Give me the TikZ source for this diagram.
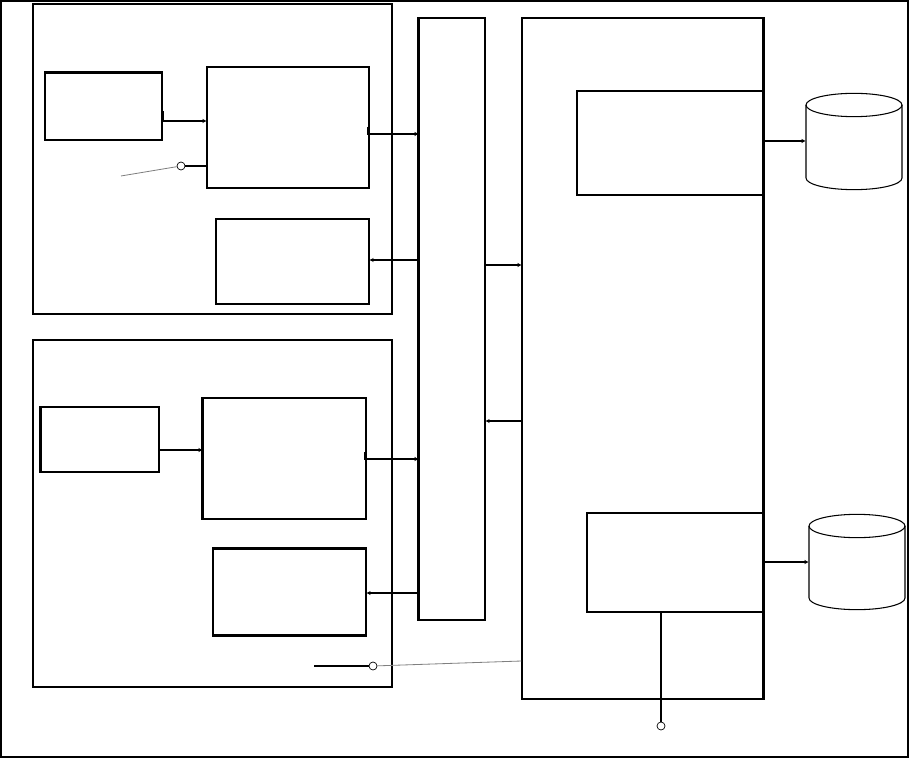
\documentclass[tikz,border=0pt]{standalone}
\usetikzlibrary{arrows.meta,fit}

\begin{document}
\begin{tikzpicture}[x=0.3mm,y=-0.3mm,>={Stealth[length=3.5pt,width=3.5pt]},line width=0.9pt,
		box/.style={draw,inner sep=0pt,fit={#1}},
		hold/.style={inner sep=0pt,fit={#1}},
		drum/.style={x radius=14.4mm,y radius=3.5mm},
		port/.style={draw,circle,inner sep=0pt,minimum size=2.4mm,line width=0.6pt},
		heavy/.style={line width=1.8pt}]
		\useasboundingbox (0,0) rectangle (910,758);
		\draw[line width=1.3pt] (1,1) rectangle (908,757);
		% upper unit
		\node[box={(33,4)(392,314)}] (unitA) {};
		\node[box={(45,73)(162,140)}] (srcA) {};
		\node[box={(207,67)(369,188)}] (procA) {};
		\node[box={(216,219)(369,304)}] (outA) {};
		% lower unit
		\node[box={(33,340)(392,687)}] (unitB) {};
		\node[box={(41,407)(159,472)}] (srcB) {};
		\node[box={(203,398)(366,519)}] (procB) {};
		\node[box={(213,549)(366,635)}] (outB) {};
		% bus and server
		\node[box={(419,18)(485,620)}] (bus) {};
		\node[box={(522,18)(763,699)}] (srv) {};
		\node[box={(577,91)(763,195)}] (ctlA) {};
		\node[box={(587,513)(763,612)}] (ctlB) {};
		\draw[heavy] (bus.north west) -- (bus.south west);
		\draw[heavy] (srv.north east) -- (srv.south east);
		\draw[heavy] (srcA.north west) -- (srcA.north east);
		\draw[heavy] (srcB.north west) -- (srcB.south west);
		\draw[heavy] (procB.north west) -- (procB.south west);
		\draw[heavy] (outB.north west) -- (outB.north east);
		\draw[heavy] (outB.south west) -- (outB.south east);
		% stores
		\node[hold={(806,93)(902,189)}] (dbA) {};
		\draw (854,105) ellipse[drum];
		\draw (806,105) -- (806,178) arc[start angle=180,end angle=360,drum] -- (902,105);
		\node[hold={(809,514)(905,609)}] (dbB) {};
		\draw (857,526) ellipse[drum];
		\draw (809,526) -- (809,598) arc[start angle=180,end angle=360,drum] -- (905,526);
		% ports
		\node[port] (pA) at (181,166) {};
		\node[port] (pB) at (373,666) {};
		\node[port] (pC) at (661,726) {};
		\coordinate (inA) at (121,176);
		\coordinate (inB) at (314,666);
		% connectors
		\draw[->] ([xshift=0.4mm]srcA.east |- 0,111) -- ([xshift=0.4mm]srcA.east |- 0,121) -- (procA.west |- 0,121);
		\draw[->] ([xshift=-0.5mm]procA.east |- 0,127) -- ([xshift=-0.5mm]procA.east |- 0,134) -- (bus.west |- 0,134);
		\draw[->] (bus.west |- 0,260) -- (outA.east |- 0,260);
		\draw[->] (bus.east |- 0,265) -- (srv.west |- 0,265);
		\draw[->] (srv.west |- 0,421) -- (bus.east |- 0,421);
		\draw[->] (srcB.east |- 0,450) -- (procB.west |- 0,450);
		\draw[->] ([xshift=-0.5mm]procB.east |- 0,452) -- ([xshift=-0.5mm]procB.east |- 0,459) -- (bus.west |- 0,459);
		\draw[->] (bus.west |- 0,593) -- (outB.east |- 0,593);
		\draw[->] (ctlA.east |- 0,141) -- (dbA.west |- 0,141);
		\draw[->] (ctlB.east |- 0,562) -- (dbB.west |- 0,562);
		\draw (pA) -- (procA.west |- pA);
		\draw[gray,line width=0.7pt] (inA) -- (pA);
		\draw (inB) -- (pB);
		\draw[gray,line width=0.7pt] (pB) -- (srv.west |- 0,661);
		\draw (pC |- ctlB.south) -- (pC);
	\end{tikzpicture}
\end{document}
